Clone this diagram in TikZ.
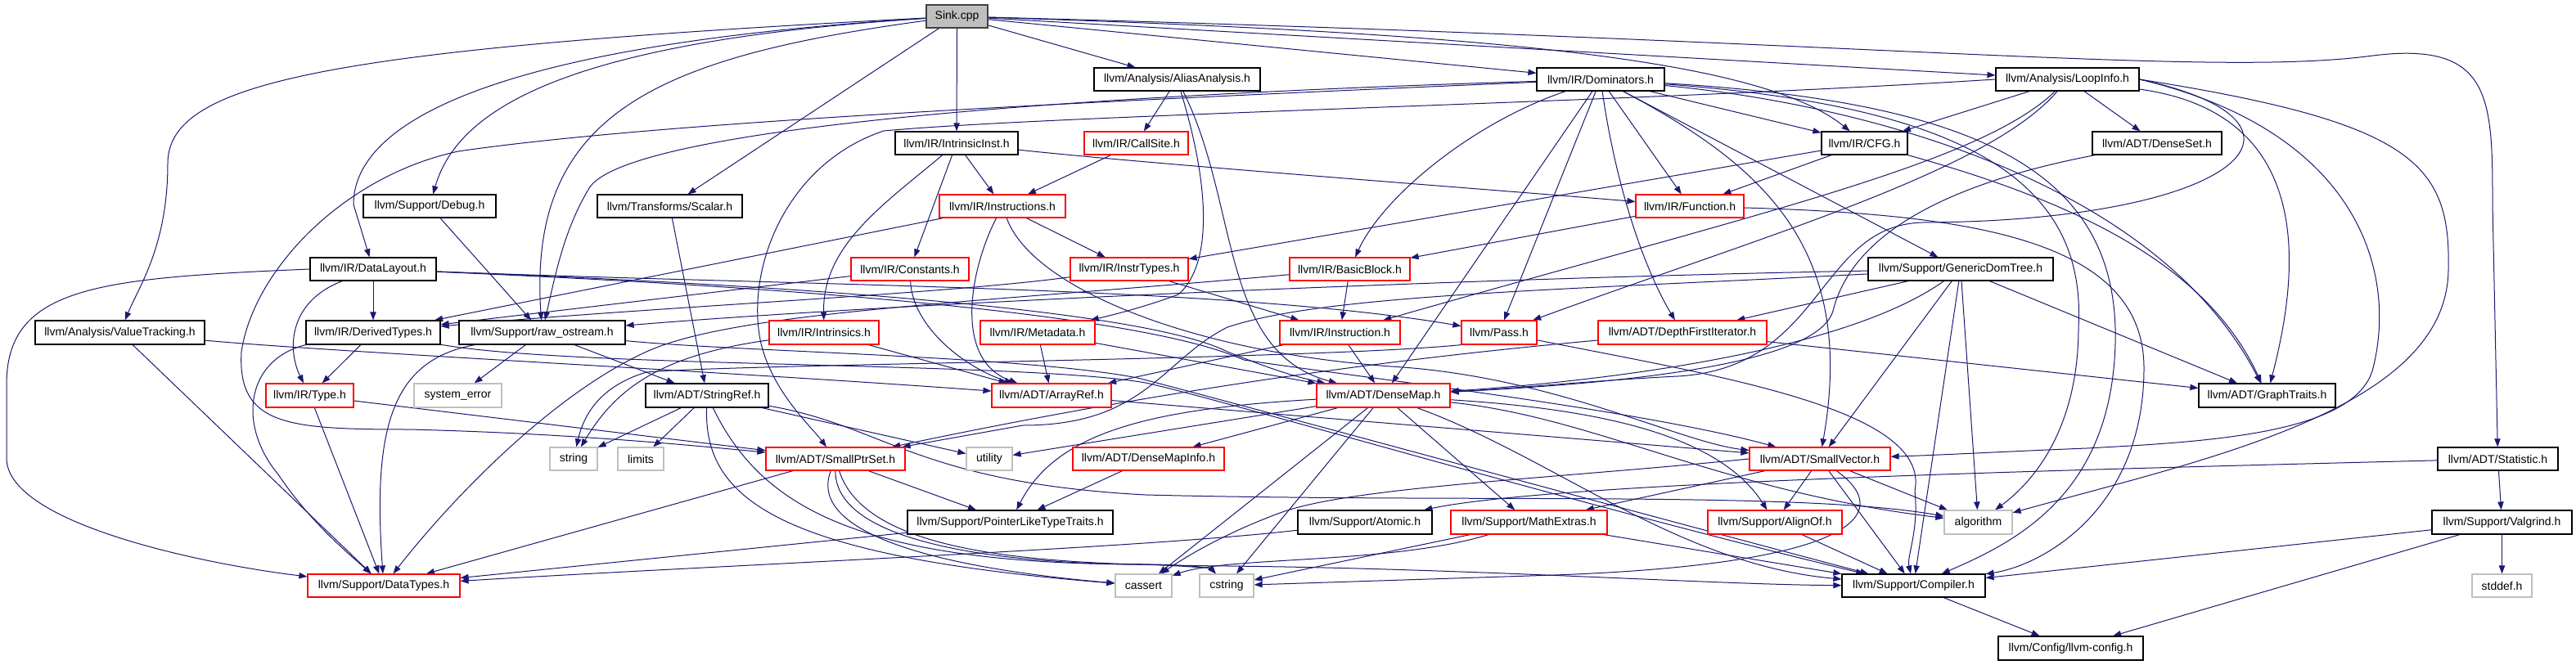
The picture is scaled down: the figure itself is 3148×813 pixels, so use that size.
\documentclass[tikz,border=0pt]{standalone}
\usepackage{fontspec}
\setmainfont{Liberation Sans}
\usetikzlibrary{arrows.meta}
\definecolor{edgecol}{HTML}{191970}
\definecolor{redb}{HTML}{FF0000}
\definecolor{grayb}{HTML}{BFBFBF}
\definecolor{rootb}{HTML}{404040}
\pgfdeclarelayer{bg}
\pgfsetlayers{bg,main}
\newcommand\bx[7]{\node[#1, minimum width={(#5-#3)*0.75pt}, minimum height={(#6-#4)*0.75pt}] (#2) at ({(#3+#5)/2},{(#4+#6)/2}) {#7};}
\begin{document}
\begin{tikzpicture}[x=0.75pt, y=-0.75pt,
  nd/.style={draw=black, line width=0.9pt, rectangle, inner sep=0pt, fill=white, font=\fontsize{10.5}{12}\selectfont},
  rnd/.style={nd, draw=redb},
  snd/.style={nd, draw=grayb},
  root/.style={nd, draw=rootb, fill=grayb},
  e/.style={draw=edgecol, line width=0.75pt, -{Triangle[length=7.5pt,width=5.5pt]}}]
\useasboundingbox (0,0) rectangle (3148,813);
% nodes
\bx{root}{sink}{1132}{6}{1207}{34}{Sink.cpp}
\bx{nd}{aa}{1337}{83}{1540}{111}{llvm/Analysis/AliasAnalysis.h}
\bx{nd}{dom}{1878}{83}{2034}{111}{llvm/IR/Dominators.h}
\bx{nd}{loop}{2439}{83}{2614}{111}{llvm/Analysis/LoopInfo.h}
\bx{nd}{intr}{1094}{161}{1244}{189}{llvm/IR/IntrinsicInst.h}
\bx{rnd}{callsite}{1325}{161}{1452}{189}{llvm/IR/CallSite.h}
\bx{nd}{cfg}{2226}{161}{2331}{189}{llvm/IR/CFG.h}
\bx{nd}{denseset}{2557}{161}{2715}{189}{llvm/ADT/DenseSet.h}
\bx{nd}{debug}{444}{238}{606}{266}{llvm/Support/Debug.h}
\bx{nd}{scalar}{730}{238}{907}{266}{llvm/Transforms/Scalar.h}
\bx{rnd}{instrs}{1148}{238}{1302}{266}{llvm/IR/Instructions.h}
\bx{rnd}{func}{1999}{238}{2131}{266}{llvm/IR/Function.h}
\bx{nd}{dl}{379}{315}{533}{343}{llvm/IR/DataLayout.h}
\bx{rnd}{consts}{1040}{315}{1184}{343}{llvm/IR/Constants.h}
\bx{rnd}{instrtypes}{1308}{315}{1452}{343}{llvm/IR/InstrTypes.h}
\bx{rnd}{bb}{1576}{315}{1723}{343}{llvm/IR/BasicBlock.h}
\bx{nd}{gdt}{2283}{315}{2509}{343}{llvm/Support/GenericDomTree.h}
\bx{nd}{vt}{43}{392}{250}{421}{llvm/Analysis/ValueTracking.h}
\bx{nd}{dt}{374}{392}{538}{421}{llvm/IR/DerivedTypes.h}
\bx{nd}{raw}{561}{392}{764}{421}{llvm/Support/raw\_ostream.h}
\bx{rnd}{intrinsics}{940}{392}{1074}{421}{llvm/IR/Intrinsics.h}
\bx{rnd}{md}{1198}{392}{1338}{421}{llvm/IR/Metadata.h}
\bx{rnd}{inst}{1564}{392}{1711}{421}{llvm/IR/Instruction.h}
\bx{rnd}{pass}{1786}{392}{1878}{421}{llvm/Pass.h}
\bx{rnd}{dfi}{1953}{392}{2159}{421}{llvm/ADT/DepthFirstIterator.h}
\bx{rnd}{type}{325}{469}{432}{498}{llvm/IR/Type.h}
\bx{snd}{syserr}{506}{469}{613}{498}{system\_error}
\bx{nd}{sref}{789}{469}{939}{498}{llvm/ADT/StringRef.h}
\bx{rnd}{aref}{1212}{469}{1358}{498}{llvm/ADT/ArrayRef.h}
\bx{rnd}{dmap}{1609}{469}{1772}{498}{llvm/ADT/DenseMap.h}
\bx{nd}{gt}{2687}{469}{2854}{498}{llvm/ADT/GraphTraits.h}
\bx{snd}{string}{672}{547}{730}{575}{string}
\bx{snd}{limits}{755}{547}{811}{575}{limits}
\bx{rnd}{sps}{936}{547}{1106}{575}{llvm/ADT/SmallPtrSet.h}
\bx{snd}{utility}{1181}{547}{1237}{575}{utility}
\bx{rnd}{dmi}{1311}{547}{1496}{575}{llvm/ADT/DenseMapInfo.h}
\bx{rnd}{svec}{2138}{547}{2310}{575}{llvm/ADT/SmallVector.h}
\bx{nd}{stat}{2979}{547}{3126}{575}{llvm/ADT/Statistic.h}
\bx{nd}{pltt}{1109}{624}{1360}{653}{llvm/Support/PointerLikeTypeTraits.h}
\bx{nd}{atomic}{1586}{624}{1750}{653}{llvm/Support/Atomic.h}
\bx{rnd}{mathx}{1773}{624}{1964}{653}{llvm/Support/MathExtras.h}
\bx{rnd}{alignof}{2087}{624}{2251}{653}{llvm/Support/AlignOf.h}
\bx{snd}{algorithm}{2376}{624}{2459}{653}{algorithm}
\bx{nd}{valgrind}{2972}{624}{3143}{653}{llvm/Support/Valgrind.h}
\bx{rnd}{dtypes}{376}{702}{562}{730}{llvm/Support/DataTypes.h}
\bx{snd}{cassert}{1363}{702}{1432}{730}{cassert}
\bx{snd}{cstring}{1466}{702}{1532}{730}{cstring}
\bx{nd}{compiler}{2251}{702}{2426}{730}{llvm/Support/Compiler.h}
\bx{snd}{stddef}{3021}{702}{3094}{730}{stddef.h}
\bx{nd}{config}{2442}{778}{2619}{807}{llvm/Config/llvm-config.h}
\begin{pgfonlayer}{bg}
\fill[white] (0,0) rectangle (3148,813);
% Sink.cpp
\draw[e] (sink) .. controls (400,60) and (205,100) .. (205,200) .. controls (205,300) and (170,350) .. (vt);
\draw[e] (sink) .. controls (600,55) and (432,150) .. (432,250) -- (dl);
\draw[e] (sink) .. controls (700,50) and (560,130) .. (debug);
\draw[e] (sink) .. controls (800,70) and (645,140) .. (raw);
\draw[e] (sink) -- (scalar);
\draw[e] (sink) -- (intr);
\draw[e] (sink) -- (aa);
\draw[e] (sink) -- (dom);
\draw[e] (sink) .. controls (1800,40) and (2150,70) .. (cfg);
\draw[e] (sink) -- (loop);
\draw[e] (sink) .. controls (2300,50) and (2700,95) .. (2900,68) .. controls (3045,50) and (3046,120) .. (3046,250) -- (stat);
% AliasAnalysis
\draw[e] (aa) -- (callsite);
\draw[e] (aa) .. controls (1485,250) and (1475,330) .. (1440,360) .. controls (1400,375) and (1360,385) .. (md);
\draw[e] (aa) .. controls (1515,250) and (1490,430) .. (dmap);
% Dominators
\draw[e] (dom) .. controls (1200,120) and (760,165) .. (720,230) .. controls (690,280) and (680,330) .. (raw);
\draw[e] (dom) .. controls (1300,125) and (800,150) .. (560,185) .. controls (420,215) and (310,330) .. (295,430) .. controls (290,520) and (350,525) .. (500,525) .. controls (700,530) and (850,545) .. (sps);
\draw[e] (dom) .. controls (1800,150) and (1690,240) .. (bb);
\draw[e] (dom) -- (dmap);
\draw[e] (dom) -- (pass);
\draw[e] (dom) .. controls (1975,230) and (2010,330) .. (dfi);
\draw[e] (dom) -- (func);
\draw[e] (dom) -- (cfg);
\draw[e] (dom) -- (gdt);
\draw[e] (dom) .. controls (2300,130) and (2640,230) .. (gt);
\draw[e] (dom) .. controls (2150,200) and (2270,300) .. (svec);
\draw[e] (dom) .. controls (2400,130) and (2550,220) .. (2540,400) .. controls (2540,540) and (2470,600) .. (algorithm);
\draw[e] (dom) .. controls (2420,125) and (2590,210) .. (2585,420) .. controls (2580,600) and (2470,660) .. (compiler);
% LoopInfo
\draw[e] (loop) -- (cfg);
\draw[e] (loop) .. controls (2420,200) and (2150,260) .. (inst);
\draw[e] (loop) .. controls (2430,210) and (2150,290) .. (pass);
\draw[e] (loop) -- (denseset);
\draw[e] (loop) .. controls (2840,140) and (2805,350) .. (gt);
\draw[e] (loop.east) .. controls (2860,150) and (2740,270) .. (2350,272) .. controls (2220,275) and (2230,450) .. (2050,460) .. controls (1950,465) and (1850,475) .. (dmap);
\draw[e] (loop.east) .. controls (2880,160) and (2930,330) .. (2900,450) .. controls (2880,530) and (2700,540) .. (2550,548) .. controls (2450,552) and (2380,556) .. (svec);
\draw[e] (loop.east) .. controls (2950,150) and (2995,200) .. (2992,330) .. controls (2990,500) and (2700,560) .. (algorithm);
\draw[e] (loop.west) .. controls (2000,125) and (1300,140) .. (1080,160) .. controls (960,200) and (910,330) .. (930,420) .. controls (945,480) and (990,520) .. (sps);
% CFG
\draw[e] (cfg) -- (func);
\draw[e] (cfg) -- (instrtypes);
\draw[e] (cfg) .. controls (2550,250) and (2700,330) .. (gt);
% DenseSet
\draw[e] (denseset) .. controls (2350,230) and (2260,300) .. (2240,380) .. controls (2220,450) and (1950,470) .. (dmap);
% GenericDomTree
\draw[e] (gdt) .. controls (1800,340) and (1100,370) .. (raw);
\draw[e] (gdt) .. controls (1900,355) and (1620,360) .. (1500,400) .. controls (1420,440) and (1400,520) .. (1250,520) -- (sps);
\draw[e] (gdt) -- (dfi);
\draw[e] (gdt) .. controls (2240,440) and (1900,470) .. (dmap);
\draw[e] (gdt) -- (svec);
\draw[e] (gdt) -- (algorithm);
\draw[e] (gdt) -- (compiler);
\draw[e] (gdt) -- (gt);
% DepthFirstIterator
\draw[e] (dfi) -- (gt);
\draw[e] (dfi) .. controls (1800,430) and (1500,460) .. (sps);
% Function
\draw[e] (func) -- (bb);
\draw[e] (func) .. controls (2400,262) and (2620,290) .. (2620,450) .. controls (2620,620) and (2500,690) .. (compiler);
% BasicBlock
\draw[e] (bb) -- (inst);
\draw[e] (bb) .. controls (1200,370) and (900,380) .. (790,430) .. controls (680,480) and (560,600) .. (dtypes);
% InstrTypes
\draw[e] (instrtypes) .. controls (1150,360) and (800,375) .. (dt);
\draw[e] (instrtypes) -- (inst);
% Constants
\draw[e] (consts) -- (dt);
\draw[e] (consts) .. controls (1115,400) and (1180,450) .. (aref);
% Instructions
\draw[e] (instrs) -- (instrtypes);
\draw[e] (instrs) -- (dt);
\draw[e] (instrs) .. controls (1185,330) and (1165,440) .. (aref);
\draw[e] (instrs) .. controls (1260,350) and (1450,430) .. (1700,448) .. controls (1900,460) and (2050,540) .. (svec);
% CallSite
\draw[e] (callsite) -- (instrs);
% IntrinsicInst
\draw[e] (intr) -- (instrs);
\draw[e] (intr) .. controls (1080,250) and (1005,300) .. (intrinsics);
\draw[e] (intr) -- (consts);
\draw[e] (intr) .. controls (1400,200) and (1800,230) .. (func);
% DataLayout
\draw[e] (dl.west) .. controls (120,340) and (8,350) .. (8,470) -- (8,560) .. controls (8,640) and (250,690) .. (dtypes);
\draw[e] (dl) .. controls (350,370) and (352,430) .. (type);
\draw[e] (dl) -- (dt);
\draw[e] (dl) .. controls (1000,350) and (1500,350) .. (pass);
\draw[e] (dl) .. controls (1000,350) and (1400,380) .. (1500,430) .. controls (1550,450) and (1580,460) .. (dmap);
\draw[e] (dl) .. controls (1000,352) and (1400,386) .. (1520,440) .. controls (1650,460) and (2000,500) .. (svec);
% ValueTracking
\draw[e] (vt) .. controls (400,430) and (900,455) .. (aref);
\draw[e] (vt) -- (dtypes);
% DerivedTypes
\draw[e] (dt) -- (type);
\draw[e] (dt.south west) .. controls (300,440) and (290,520) .. (340,580) .. controls (380,640) and (430,680) .. (dtypes);
\draw[e] (dt) .. controls (700,450) and (1250,442) .. (1400,468) .. controls (1500,490) and (1900,610) .. (compiler);
% raw_ostream
\draw[e] (raw) .. controls (480,440) and (455,520) .. (dtypes);
\draw[e] (raw) -- (syserr);
\draw[e] (raw) -- (sref);
\draw[e] (raw) .. controls (900,430) and (1250,435) .. (1390,462) .. controls (1500,490) and (1900,600) .. (compiler);
% Debug, Scalar
\draw[e] (debug) -- (raw);
\draw[e] (scalar) -- (sref);
% Intrinsics, Metadata, Instruction
\draw[e] (intrinsics) -- (aref);
\draw[e] (intrinsics) .. controls (800,435) and (750,480) .. (string);
\draw[e] (md) -- (aref);
\draw[e] (md) -- (dmap);
\draw[e] (inst) -- (aref);
\draw[e] (inst) -- (dmap);
% Pass
\draw[e] (pass.south west) .. controls (1600,440) and (900,445) .. (790,455) .. controls (740,470) and (715,500) .. (string);
\draw[e] (pass) .. controls (2100,460) and (2360,500) .. (2340,600) .. controls (2345,650) and (2330,680) .. (compiler);
% DenseMap
\draw[e] (dmap) -- (dmi);
\draw[e] (dmap) -- (utility);
\draw[e] (dmap) .. controls (1400,500) and (1290,530) .. (pltt);
\draw[e] (dmap) -- (cassert);
\draw[e] (dmap) -- (cstring);
\draw[e] (dmap) -- (mathx);
\draw[e] (dmap) .. controls (1950,500) and (2100,530) .. (alignof);
\draw[e] (dmap) .. controls (1900,560) and (2050,690) .. (compiler);
\draw[e] (dmap) .. controls (1950,510) and (2100,600) .. (algorithm);
% SmallPtrSet
\draw[e] (sps) -- (dtypes);
\draw[e] (sps) -- (pltt);
\draw[e] (sps) .. controls (990,640) and (1100,690) .. (cassert);
\draw[e] (sps) .. controls (1020,680) and (1300,690) .. (1400,690) .. controls (1450,692) and (1480,695) .. (cstring);
\draw[e] (sps) .. controls (1060,685) and (1300,690) .. (1500,692) .. controls (1800,695) and (2100,715) .. (compiler);
% SmallVector
\draw[e] (svec) -- (alignof);
\draw[e] (svec) -- (mathx);
\draw[e] (svec.west) .. controls (1900,585) and (1660,595) .. (1570,625) .. controls (1500,650) and (1450,680) .. (cassert);
\draw[e] (svec) .. controls (2320,630) and (2260,690) .. (1900,703) -- (cstring);
\draw[e] (svec) -- (compiler);
\draw[e] (svec) -- (algorithm);
% MathExtras
\draw[e] (mathx) -- (compiler);
\draw[e] (mathx) .. controls (1700,690) and (1500,680) .. (cassert);
\draw[e] (mathx) -- (cstring);
% others
\draw[e] (atomic) .. controls (1400,670) and (900,690) .. (dtypes);
\draw[e] (pltt) -- (dtypes);
\draw[e] (dmi) -- (pltt);
\draw[e] (aref) -- (svec);
\draw[e] (type) -- (dtypes);
\draw[e] (type) -- (sps);
\draw[e] (alignof) -- (compiler);
\draw[e] (compiler) -- (config);
\draw[e] (stat) .. controls (2500,575) and (1900,590) .. (atomic);
\draw[e] (stat) -- (valgrind);
\draw[e] (valgrind) -- (compiler);
\draw[e] (valgrind) -- (config);
\draw[e] (valgrind) -- (stddef);
% StringRef
\draw[e] (sref) -- (string);
\draw[e] (sref) -- (limits);
\draw[e] (sref) .. controls (860,610) and (950,680) .. (cassert);
\draw[e] (sref) .. controls (930,620) and (1050,690) .. (1400,690) .. controls (1450,690) and (1480,695) .. (cstring);
\draw[e] (sref) -- (utility);
\draw[e] (sref) .. controls (1080,520) and (1120,590) .. (1400,605) .. controls (1800,615) and (2200,600) .. (algorithm);
\end{pgfonlayer}
\end{tikzpicture}
\end{document}
